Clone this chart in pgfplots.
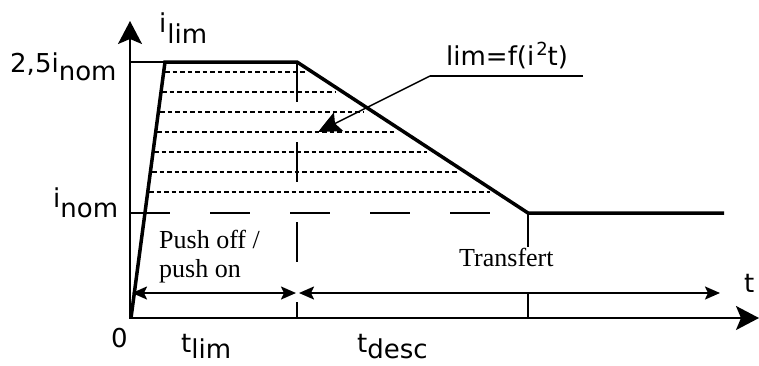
\documentclass[border=0pt]{standalone}
\usepackage{pgfplots}
\pgfplotsset{compat=1.18}
\usepackage{fontspec}
\setmainfont{Liberation Serif}
\newfontfamily\dv{DejaVu Sans}
\usetikzlibrary{arrows.meta}
\newcommand\lab{\dv\fontsize{26}{30}\selectfont}
\newcommand\ser{\fontsize{26}{29}\selectfont}
\begin{document}
\begin{tikzpicture}
\begin{axis}[scale only axis, width=759pt, height=365pt,
  xmin=0, xmax=759, ymin=0, ymax=365, y dir=reverse,
  hide axis, clip=false]
\coordinate (BL) at (axis cs:0,365);
\coordinate (TR) at (axis cs:759,0);
% dotted hatch lines
\addplot[line width=1.3pt, dash pattern=on 4.5pt off 3pt] coordinates {(165,72) (306,72)};
\addplot[line width=1.3pt, dash pattern=on 4.5pt off 3pt] coordinates {(162,92) (335,92)};
\addplot[line width=1.3pt, dash pattern=on 4.5pt off 3pt] coordinates {(160,112) (364,112)};
\addplot[line width=1.3pt, dash pattern=on 4.5pt off 3pt] coordinates {(157,132) (397,132)};
\addplot[line width=1.3pt, dash pattern=on 4.5pt off 3pt] coordinates {(154,152) (427,152)};
\addplot[line width=1.3pt, dash pattern=on 4.5pt off 3pt] coordinates {(152,172) (459,172)};
\addplot[line width=1.3pt, dash pattern=on 4.5pt off 3pt] coordinates {(149,192) (490,192)};
% long dashed nominal line
\addplot[line width=1.6pt, dash pattern=on 40pt off 40pt] coordinates {(130,213) (528,213)};
% vertical dashed at t_lim
\addplot[line width=1.5pt, dash pattern=on 40pt off 40pt] coordinates {(297,62) (297,318)};
% verticals at transfer
\addplot[line width=1.5pt] coordinates {(528,213) (528,247)};
\addplot[line width=1.5pt] coordinates {(528,293) (528,318)};
% thin top line
\addplot[line width=1.5pt] coordinates {(130,62) (165,62)};
% thick limit curve
\addplot[line width=3.5pt] coordinates {(131,318) (165,62) (297,62) (528,213) (724,213)};
% axes
\addplot[line width=2pt, -{Stealth[length=23pt,width=24pt,inset=5pt]}] coordinates {(130,318) (130,21)};
\addplot[line width=2pt, -{Stealth[length=23pt,width=24pt,inset=5pt]}] coordinates {(129,318) (759,318)};
% duration arrows
\addplot[line width=2pt, {Stealth[length=15pt,width=13pt,inset=3pt]}-{Stealth[length=15pt,width=13pt,inset=3pt]}] coordinates {(132,293) (296,293)};
\addplot[line width=2pt, {Stealth[length=15pt,width=13pt,inset=3pt]}-{Stealth[length=15pt,width=13pt,inset=3pt]}] coordinates {(299,293) (720,293)};
% annotation leader
\addplot[line width=1.5pt] coordinates {(583,76) (430,76)};
\addplot[line width=1.5pt, -{Stealth[length=23pt,width=21pt,inset=4pt]}] coordinates {(430,76) (318,132)};
% labels
\node[anchor=base west, inner sep=0] at (axis cs:159,32) {\lab i\hspace{1pt}\raisebox{-11pt}{lim}};
\node[anchor=base west, inner sep=0] at (axis cs:10,72) {\lab 2,5i\raisebox{-8pt}{nom}};
\node[anchor=base west, inner sep=0] at (axis cs:53,207) {\lab i\raisebox{-10pt}{nom}};
\node[anchor=base west, inner sep=0] at (axis cs:111,347) {\lab 0};
\node[anchor=base west, inner sep=0] at (axis cs:181,352) {\lab t\raisebox{-6pt}{lim}};
\node[anchor=base west, inner sep=0] at (axis cs:357,352) {\lab t\raisebox{-6pt}{desc}};
\node[anchor=base west, inner sep=0] at (axis cs:744,292) {\lab t};
\node[anchor=base west, inner sep=0] at (axis cs:446,65) {\lab lim=f(i\hspace{2pt}\raisebox{10pt}{\fontsize{18}{20}\selectfont 2}t)};
\node[anchor=base west, inner sep=0] at (axis cs:159,248) {\ser Push off /};
\node[anchor=base west, inner sep=0] at (axis cs:159,277) {\ser push on};
\node[anchor=base west, inner sep=0] at (axis cs:459,266) {\ser Transfert};
\end{axis}
\pgfresetboundingbox
\path[use as bounding box] (BL) rectangle (TR);
\end{tikzpicture}
\end{document}
